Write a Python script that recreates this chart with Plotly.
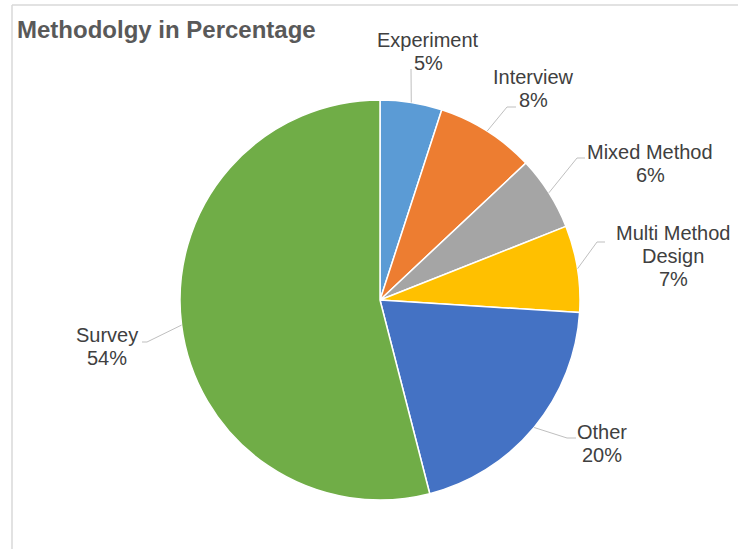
import math
import plotly.graph_objects as go

# Study methodology shares (percent)
methods = ["Experiment", "Interview", "Mixed Method", "Multi Method Design", "Other", "Survey"]
shares = [5, 8, 6, 7, 20, 54]
label_lines = [["Experiment"], ["Interview"], ["Mixed Method"], ["Multi Method", "Design"], ["Other"], ["Survey"]]
colors = ["#5B9BD5", "#ED7D31", "#A5A5A5", "#FFC000", "#4472C4", "#70AD47"]

W, H = 738, 549
CX, CY, R = 380, 300, 200  # pie centre and radius in pixels

# Label block placement: (centre x, first line y, elbow x, elbow y, line end x)
label_pos = [
    (428, 40, 411, 69, 411),
    (533, 77, 507, 107, 516),
    (650, 152, 577, 158, 585),
    (673, 233, 597, 242, 605),
    (602, 432, 567, 438, 576),
    (107, 335, 147, 342, 142),
]
LINE_GAP = 23


def px(x):
    return x / W


def py(y):
    return 1 - y / H


fig = go.Figure(
    go.Pie(
        labels=methods,
        values=shares,
        sort=False,
        direction="clockwise",
        rotation=0,
        marker=dict(colors=colors, line=dict(color="white", width=1.5)),
        textinfo="none",
        hoverinfo="label+percent",
        domain=dict(x=[px(CX - R), px(CX + R)], y=[py(CY + R), py(CY - R)]),
        showlegend=False,
    )
)

annotations = []
shapes = []
total = sum(shares)
cum = 0
for name_lines, v, pos in zip(label_lines, shares, label_pos):
    mid = (cum + v / 2) / total * 2 * math.pi
    cum += v
    sx = CX + R * math.sin(mid)
    sy = CY - R * math.cos(mid)
    lx, ly, ex, ey, endx = pos
    shapes.append(dict(
        type="path", xref="paper", yref="paper",
        path=f"M {px(sx)},{py(sy)} L {px(ex)},{py(ey)} L {px(endx)},{py(ey)}",
        line=dict(color="#BFBFBF", width=1),
    ))
    lines = name_lines + [f"{round(v / total * 100)}%"]
    for i, t in enumerate(lines):
        annotations.append(dict(
            text=t, x=px(lx), y=py(ly + i * LINE_GAP), xref="paper", yref="paper",
            xanchor="center", yanchor="middle", showarrow=False,
            font=dict(family="Liberation Sans, Arial", size=20, color="#404040"),
        ))

annotations.append(dict(
    text="<b>Methodolgy in Percentage</b>", x=px(15), y=py(30), xref="paper", yref="paper",
    xanchor="left", yanchor="middle", showarrow=False,
    font=dict(family="Liberation Sans, Arial", size=24, color="#595959"),
))

# chart-area frame edges
shapes.append(dict(type="line", xref="paper", yref="paper", x0=px(12), x1=px(12), y0=0, y1=py(5),
                   line=dict(color="#D9D9D9", width=1.5)))
shapes.append(dict(type="line", xref="paper", yref="paper", x0=px(12), x1=1, y0=py(5), y1=py(5),
                   line=dict(color="#D9D9D9", width=1.5)))

fig.update_layout(
    width=W, height=H,
    margin=dict(l=0, r=0, t=0, b=0),
    paper_bgcolor="white", plot_bgcolor="white",
    annotations=annotations, shapes=shapes,
)

fig.write_html("out.html")
